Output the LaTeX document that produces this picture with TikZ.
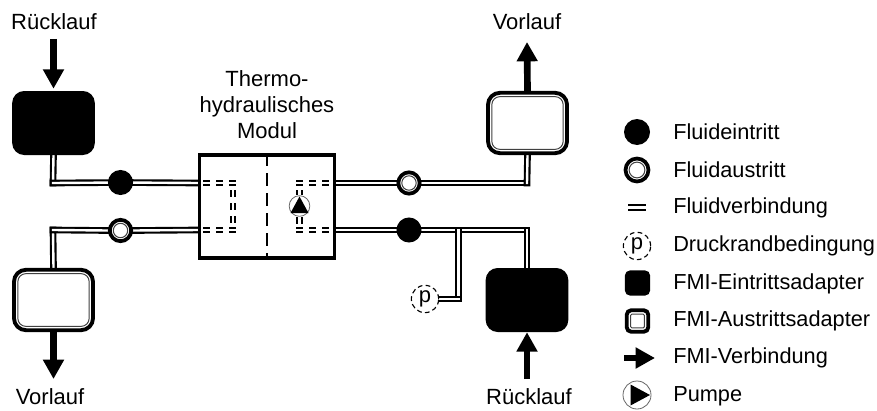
\documentclass[tikz,border=0pt]{standalone}
\usepackage{fontspec}
\setmainfont{Liberation Sans}
\usetikzlibrary{arrows.meta,backgrounds}
\tikzset{
  x=0.75pt,y=-0.75pt,
  txt/.style={inner sep=0pt,font=\fontsize{16.5pt}{19.5pt}\selectfont,align=center},
  lbl/.style={inner sep=0pt,anchor=west,font=\fontsize{16.3pt}{19pt}\selectfont},
  fluid/.style={draw=black,line width=1.6pt,double=white,double distance=1.8pt,line cap=rect},
  fluiddash/.style={draw=black,line width=1.6pt,double=white,double distance=1.8pt,dash pattern=on 5.2pt off 4.6pt},
  incircle/.style={circle,fill=black,draw=none,minimum size=18.8pt,inner sep=0pt},
  outcircle/.style={circle,fill=white,draw=black,line width=2.8pt,minimum size=16pt,inner sep=0pt},
  inbox/.style={rectangle,rounded corners=9pt,fill=black,draw=none,minimum width=62pt,minimum height=48pt,inner sep=0pt},
  outbox/.style={rectangle,rounded corners=9pt,fill=white,draw=black,line width=2.9pt,minimum width=59.3pt,minimum height=45.3pt,inner sep=0pt},
  liner/.style={draw=black!75,line width=0.75pt},
  pnode/.style={circle,draw=black,line width=0.85pt,dash pattern=on 3.6pt off 2.4pt,fill=white,minimum size=20.5pt,inner sep=0pt,font=\fontsize{16.5pt}{18pt}\selectfont},
  fmiarrow/.style={draw=black,line width=5pt,-{Triangle[length=14.5pt,width=15pt]}},
  pumpring/.style={circle,draw=black!60,line width=0.6pt,fill=white,minimum size=15.5pt,inner sep=0pt},
}
\begin{document}
\begin{tikzpicture}
\useasboundingbox (0,0) rectangle (877,410);
% module
\node[draw=black,line width=2.6pt,fill=white,minimum width=101pt,minimum height=77pt,inner sep=0pt] (mod) at (267,206.5) {};
\draw[line width=1.7pt,dash pattern=on 9.5pt off 5.5pt] (mod.north) -- (mod.south);
\node[txt] (title) at (267,105) {Thermo-\\hydraulisches\\Modul};
% adapters
\node[inbox] (a1) at (53.5,123) {};
\node[outbox] (a2) at (53.5,300) {};
\draw[liner,rounded corners=6pt] ([shift={(5.8,5.8)}]a2.north west) rectangle ([shift={(-5.8,-5.8)}]a2.south east);
\node[outbox] (a3) at (527.5,123) {};
\draw[liner,rounded corners=6pt] ([shift={(5.8,5.8)}]a3.north west) rectangle ([shift={(-5.8,-5.8)}]a3.south east);
\node[inbox] (a4) at (527,300) {};
% ports
\node[incircle] (p1) at (120.5,182.5) {};
\node[outcircle] (p2) at (120.5,230.5) {};
\draw[liner] (p2.center) circle (7.2);
\node[outcircle] (p3) at (409,183) {};
\draw[liner] (p3.center) circle (7.2);
\node[incircle] (p4) at (409,230) {};
\node[pnode] (pr) at (425,299) {p};
% coordinates
\coordinate (c1) at (53,183);
\coordinate (c2) at (53,230);
\coordinate (c3) at (527,183);
\coordinate (c4) at (527,230);
\coordinate (c5) at (458.5,230);
\coordinate (c6) at (458.5,299);
\coordinate (m1) at (199,183);
\coordinate (m2) at (199,230);
\coordinate (m3) at (335,183);
\coordinate (m4) at (335,230);
% fluid lines
\begin{pgfonlayer}{background}
\draw[fluid] (a1.south) -- (c1);
\draw[fluid] (c1) -- (p1);
\draw[fluid] (p1) -- (m1);
\draw[fluid] (a2.north) -- (c2);
\draw[fluid] (c2) -- (p2.west);
\draw[fluid] (p2.east) -- (m2);
\draw[fluid] (m3) -- (p3.west);
\draw[fluid] (p3.east) -- (c3);
\draw[fluid] (a3.south) -- (c3);
\draw[fluid] (m4) -- (p4);
\draw[fluid] (p4) -- (c4);
\draw[fluid] (a4.north) -- (c4);
\draw[fluid] (c5) -- (c6);
\draw[fluid] (c6) -- (pr.east);
\end{pgfonlayer}
% pump
\node[pumpring] (pump) at (299.5,206) {};
\fill (290.5,213) -- (299.5,196.5) -- (308.5,213) -- cycle;
% inner dashed
\draw[fluiddash] (203,183) -- (236,183);
\draw[fluiddash] (203,230) -- (236,230);
\draw[fluiddash] (233,190) -- (233,223.5);
\draw[fluiddash] (296,183) -- (329,183);
\draw[fluiddash] (296,230) -- (329,230);
\draw[fluiddash] (299.5,190) -- (pump.north);
\draw[fluiddash] (pump.south) -- (299.5,224);
% arrows
\coordinate (t1) at (53.5,39);
\coordinate (t3) at (53.5,379);
\coordinate (t4) at (527,379);
\coordinate (t2) at (527,42);
\draw[fmiarrow,shorten >=1.5pt] (t1) -- (a1.north);
\draw[fmiarrow] (a3.north) -- (t2);
\draw[fmiarrow] (a2.south) -- (t3);
\draw[fmiarrow] (t4) -- (a4.south);
% labels
\node[txt] (r1) at (54,22) {Rücklauf};
\node[txt] (v1) at (527,22) {Vorlauf};
\node[txt] (v2) at (50,397) {Vorlauf};
\node[txt] (r2) at (529,397) {Rücklauf};
% legend
\node[incircle,minimum size=19.5pt] (l1) at (637,132) {};
\node[outcircle,minimum size=17.2pt] (l2) at (637,170) {};
\draw[liner] (l2.center) circle (7.9);
\coordinate (l3a) at (628,207.5);
\coordinate (l3b) at (646,207.5);
\draw[fluid,line cap=butt] (l3a) -- (l3b);
\node[pnode] (l4) at (637,246) {p};
\node[inbox,minimum width=19pt,minimum height=19pt,rounded corners=4pt] (l5) at (637.5,283) {};
\node[outbox,minimum width=16.2pt,minimum height=16.2pt,rounded corners=3.5pt] (l6) at (637.5,321) {};
\draw[liner,rounded corners=1pt] ([shift={(5.8,5.8)}]l6.north west) rectangle ([shift={(-5.8,-5.8)}]l6.south east);
\coordinate (l7a) at (624,358);
\coordinate (l7b) at (655,358);
\draw[fmiarrow] (l7a) -- (l7b);
\node[pumpring,minimum size=21pt] (l8) at (637,395) {};
\fill (630.5,384.5) -- (650,395) -- (630.5,405.5) -- cycle;
\node[lbl] (tl1) at (673,132) {Fluideintritt};
\node[lbl] (tl2) at (673,170) {Fluidaustritt};
\node[lbl] (tl3) at (673,208) {Fluidverbindung};
\node[lbl] (tl4) at (673,246) {Druckrandbedingung};
\node[lbl] (tl5) at (673,284) {FMI-Eintrittsadapter};
\node[lbl] (tl6) at (673,321) {FMI-Austrittsadapter};
\node[lbl] (tl7) at (673,358) {FMI-Verbindung};
\node[lbl] (tl8) at (673,396) {Pumpe};
\end{tikzpicture}
\end{document}
